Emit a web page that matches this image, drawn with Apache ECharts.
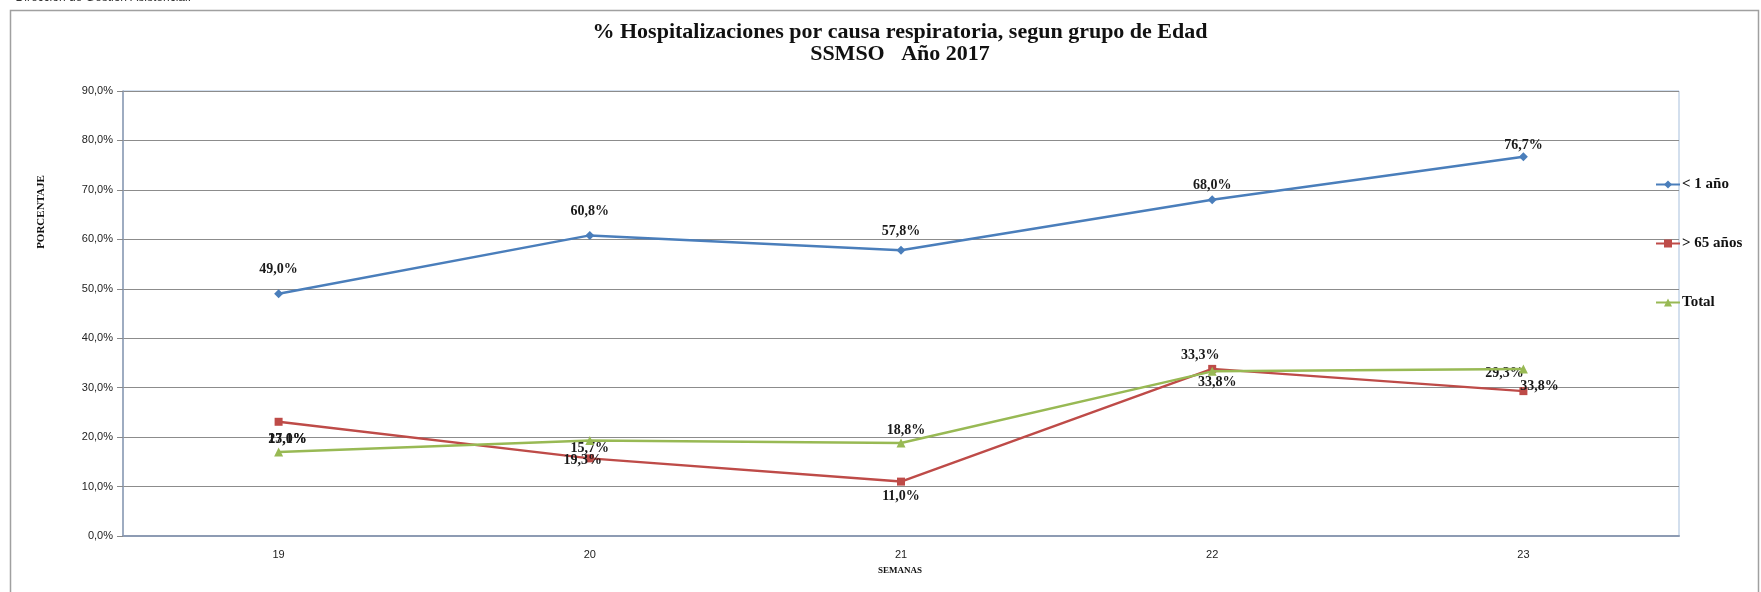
<!DOCTYPE html>
<html>
<head>
<meta charset="utf-8">
<script src="https://cdn.jsdelivr.net/npm/echarts@6/dist/echarts.min.js"></script>
<style>
  html, body { margin: 0; padding: 0; background: #fff; }
  #chart { width: 1761px; height: 592px; }
</style>
</head>
<body>
<div id="chart"></div>
<script>
// semanas epidemiologicas
const semanas = ['19', '20', '21', '22', '23']
const menor1 = [49.0, 60.8, 57.8, 68.0, 76.7]
const mayor65 = [23.1, 15.7, 11.0, 33.8, 29.3]
const total = [17.0, 19.3, 18.8, 33.3, 33.8]
const yTicks = [0, 10, 20, 30, 40, 50, 60, 70, 80, 90]

const serif = '"Liberation Serif", "DejaVu Serif", serif'
const sans = '"Liberation Sans", Arial, sans-serif'

let pct = v => v.toFixed(1).replace('.', ',') + '%'

// label offsets like in the excel original (labels are placed oddly there)
let offBlue = [[0, -24], [0, -24], [0, -19], [0, -14], [0, -11]]
let offRed = [[9, 18], [0, -10], [0, 15], [5, 14], [-19, -18]]
let offGreen = [[9, -13], [-7, 20], [5, -13], [-12, -16], [16, 18]]

let pts = (vals, offs) => vals.map((v, i) => ({
  value: v,
  label: {offset: offs[i]}
}))

let labelStyle = {
  show: true,
  position: 'inside',
  formatter: p => pct(p.value),
  fontFamily: serif,
  fontWeight: 'bold',
  fontSize: 14,
  color: '#1a1a1a'
}

let option = {
  animation: false,
  title: {
    text: '% Hospitalizaciones por causa respiratoria, segun grupo de Edad\nSSMSO   Año 2017',
    left: 895,
    top: 16,
    textAlign: 'center',
    textStyle: {
      fontFamily: serif,
      fontWeight: 'bold',
      fontSize: 22,
      lineHeight: 22,
      color: '#111'
    }
  },
  legend: {
    orient: 'vertical',
    left: 1650,
    top: 172,
    itemWidth: 24,
    itemHeight: 10,
    itemGap: 44,
    textStyle: {
      fontFamily: serif,
      fontWeight: 'bold',
      fontSize: 15,
      lineHeight: 15,
      color: '#111',
      padding: [0, 0, 0, -3]
    },
    data: ['< 1 año', '> 65 años', 'Total']
  },
  grid: {
    left: 123,
    right: 82,
    top: 91,
    bottom: 56,
    show: true,
    borderColor: '#a7bfdc',
    borderWidth: 1
  },
  xAxis: {
    type: 'category',
    data: semanas,
    boundaryGap: true,
    axisLine: {lineStyle: {color: '#8d9bb3', width: 2}},
    axisTick: {show: false},
    axisLabel: {margin: 13, fontFamily: sans, fontSize: 11, color: '#222'}
  },
  yAxis: {
    type: 'value',
    min: 0,
    max: 90,
    interval: 10,
    axisLine: {show: true, lineStyle: {color: '#8d9bb3', width: 1.5}},
    axisTick: {show: true, inside: false, length: 6, lineStyle: {color: '#888'}},
    axisLabel: {
      margin: 10,
      fontFamily: sans,
      fontSize: 11,
      color: '#222',
      formatter: v => yTicks.includes(v) ? pct(v) : ''
    },
    splitLine: {lineStyle: {color: '#8c8c8c', width: 1}}
  },
  graphic: [
    {
      type: 'rect',
      shape: {x: 10.5, y: 10.5, width: 1748, height: 620},
      style: {fill: 'none', stroke: '#a0a0a0', lineWidth: 1.5},
      silent: true
    },
    {
      type: 'text',
      x: 191,
      y: -8,
      style: {text: 'Dirección de Gestión Asistencial.', fontFamily: sans, fontSize: 12, fill: '#333', align: 'right'}
    },
    {
      type: 'text',
      x: 41,
      y: 212,
      rotation: Math.PI / 2,
      style: {
        text: 'PORCENTAJE',
        fontFamily: serif,
        fontWeight: 'bold',
        fontSize: 11,
        fill: '#111',
        align: 'center',
        verticalAlign: 'middle'
      }
    },
    {
      type: 'text',
      x: 900,
      y: 571,
      style: {
        text: 'SEMANAS',
        fontFamily: serif,
        fontWeight: 'bold',
        fontSize: 9,
        fill: '#111',
        align: 'center',
        verticalAlign: 'middle'
      }
    }
  ],
  series: [
    {
      name: '< 1 año',
      type: 'line',
      data: pts(menor1, offBlue),
      symbol: 'diamond',
      symbolSize: 9,
      itemStyle: {color: '#4a7ebb'},
      lineStyle: {width: 2.5, color: '#4a7ebb'},
      label: labelStyle,
      z: 3
    },
    {
      name: '> 65 años',
      type: 'line',
      data: pts(mayor65, offRed),
      symbol: 'rect',
      symbolSize: 8,
      itemStyle: {color: '#be4b48'},
      lineStyle: {width: 2.5, color: '#be4b48'},
      label: labelStyle,
      z: 2
    },
    {
      name: 'Total',
      type: 'line',
      data: pts(total, offGreen),
      symbol: 'triangle',
      symbolSize: 9,
      itemStyle: {color: '#98b954'},
      lineStyle: {width: 2.5, color: '#98b954'},
      label: labelStyle,
      z: 4
    }
  ]
}

let chart = echarts.init(document.getElementById('chart'))
chart.setOption(option)
</script>
</body>
</html>
